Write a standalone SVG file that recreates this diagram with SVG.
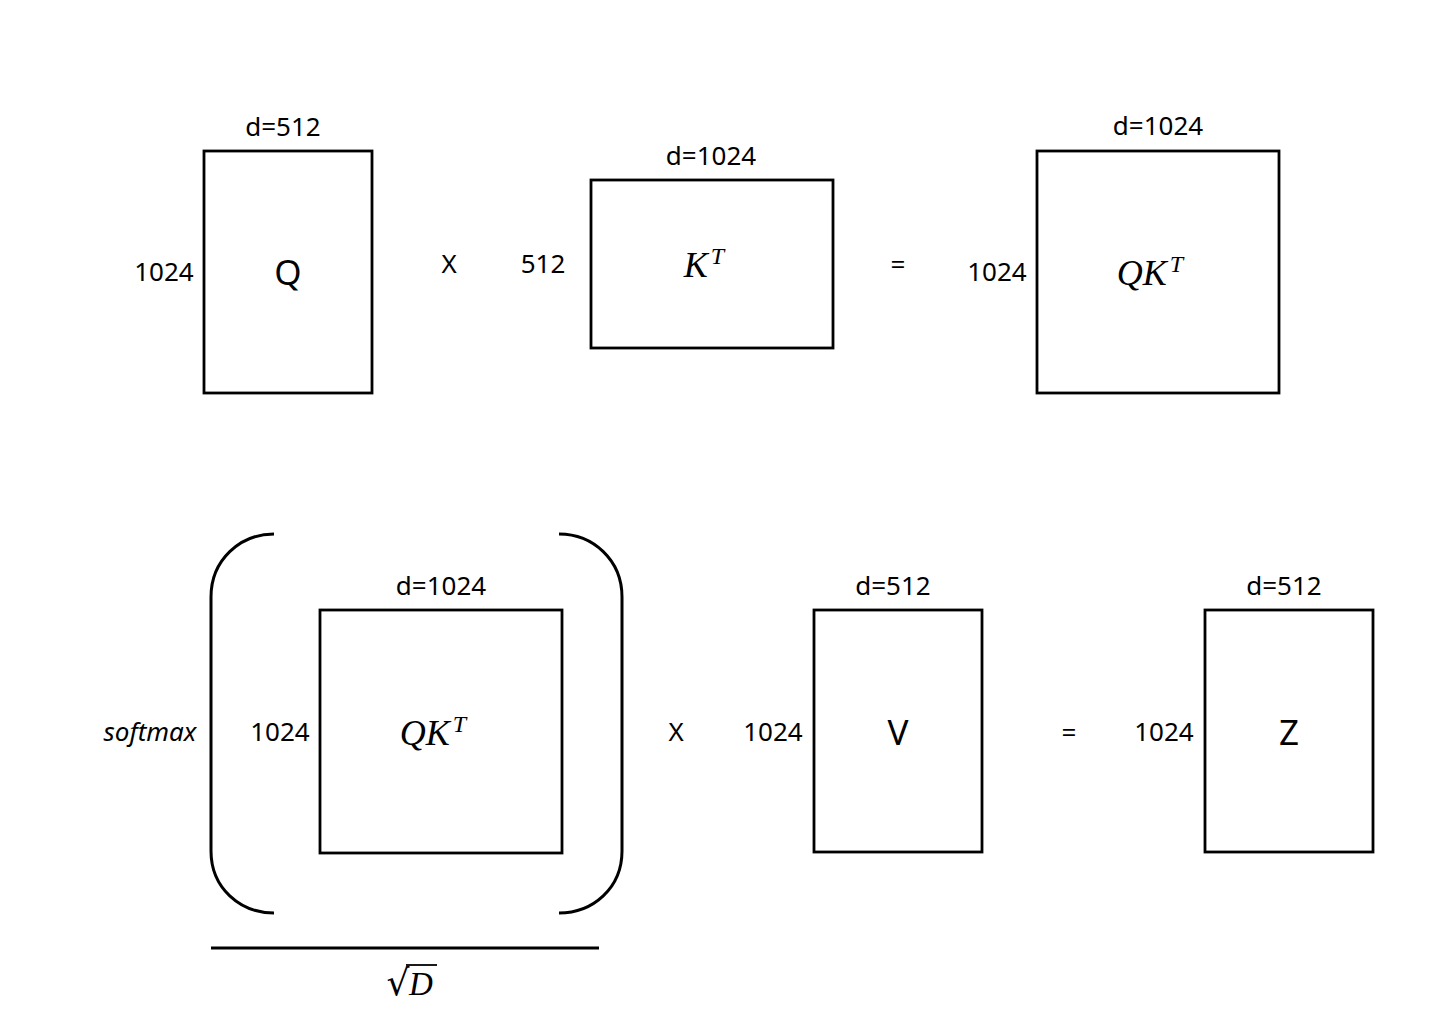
<svg xmlns="http://www.w3.org/2000/svg" width="1454" height="1023" viewBox="0 0 1454 1023">
<style>
.box{fill:none;stroke:#000;stroke-width:2.8}
.br{fill:none;stroke:#000;stroke-width:3}
.t{font-family:"Noto Sans","Open Sans",sans-serif;font-size:26px;fill:#000;text-anchor:middle}
.big{font-family:"Noto Sans","Open Sans",sans-serif;font-size:35px;fill:#000;text-anchor:middle}
.m{font-family:"Liberation Serif","DejaVu Serif",serif;font-style:italic;font-size:36px;fill:#000;text-anchor:middle}
.sup{font-size:24px}
</style>
<rect width="1454" height="1023" fill="#fff"/>
<g id="Q">
<rect class="box" x="204" y="151" width="168" height="242"/>
<text class="t" x="283" y="136">d=512</text>
<text class="t" x="164" y="281">1024</text>
<text class="big" x="288" y="285">Q</text>
</g>
<text class="t" x="449" y="273">X</text>
<g id="KT">
<rect class="box" x="591" y="180" width="242" height="168"/>
<text class="t" x="711" y="165">d=1024</text>
<text class="t" x="543" y="273">512</text>
<text class="m" x="704" y="277">K<tspan class="sup" dx="3" dy="-13">T</tspan></text>
</g>
<text class="t" x="898" y="274">=</text>
<g id="QKT">
<rect class="box" x="1037" y="151" width="242" height="242"/>
<text class="t" x="1158" y="135">d=1024</text>
<text class="t" x="997" y="281">1024</text>
<text class="m" x="1150" y="285">QK<tspan class="sup" dx="3" dy="-13">T</tspan></text>
</g>
<g id="softmax">
<text class="t" x="150" y="741" style="font-style:italic">softmax</text>
<path class="br" d="M274,534 C240,534 211,560 211,597 L211,851 C211,888 240,913 274,913"/>
<path class="br" d="M559,534 C593,534 622,560 622,597 L622,851 C622,888 593,913 559,913"/>
<line class="br" x1="211" y1="948" x2="599" y2="948"/>
<text x="398" y="995" style="font-family:'DejaVu Serif',serif;font-size:36px;text-anchor:middle">√</text>
<text class="m" x="421" y="995" style="font-size:33px">D</text>
<line stroke="#000" stroke-width="1.8" x1="406" y1="965" x2="437" y2="965"/>
</g>
<g id="QKT2">
<rect class="box" x="320" y="610" width="242" height="243"/>
<text class="t" x="441" y="595">d=1024</text>
<text class="t" x="280" y="741">1024</text>
<text class="m" x="433" y="745">QK<tspan class="sup" dx="3" dy="-13">T</tspan></text>
</g>
<text class="t" x="676" y="741">X</text>
<g id="V">
<rect class="box" x="814" y="610" width="168" height="242"/>
<text class="t" x="893" y="595">d=512</text>
<text class="t" x="773" y="741">1024</text>
<text class="big" x="898" y="745">V</text>
</g>
<text class="t" x="1069" y="742">=</text>
<g id="Z">
<rect class="box" x="1205" y="610" width="168" height="242"/>
<text class="t" x="1284" y="595">d=512</text>
<text class="t" x="1164" y="741">1024</text>
<text class="big" x="1289" y="745">Z</text>
</g>
</svg>
